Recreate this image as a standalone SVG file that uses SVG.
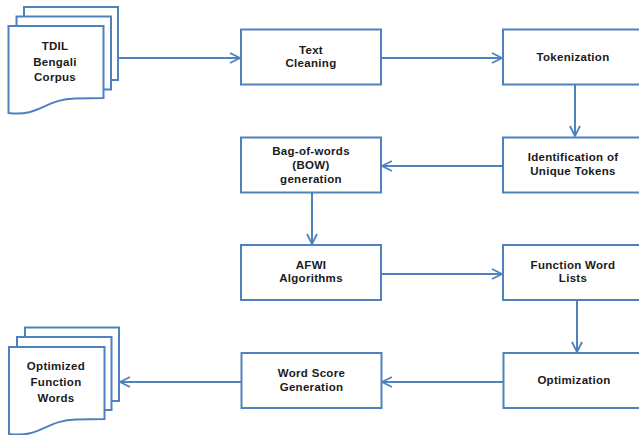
<svg xmlns="http://www.w3.org/2000/svg" width="639" height="435" viewBox="0 0 639 435">
<defs>
<style>
.box{fill:#fff;stroke:#4F81BD;stroke-width:2}
.pg{fill:#fff;stroke:#4F81BD;stroke-width:2;stroke-linejoin:miter}
.c{fill:none;stroke:#4F81BD;stroke-width:2;marker-end:url(#ah)}
text{font-family:"Liberation Sans",Arial,sans-serif;font-weight:bold;font-size:11.5px;letter-spacing:0.3px;fill:#1a1a1a;text-anchor:middle}
</style>
<marker id="ah" viewBox="0 0 12 12" refX="11" refY="6" markerWidth="12" markerHeight="12" markerUnits="userSpaceOnUse" orient="auto">
<path d="M1,1 L11,6 L1,11" fill="none" stroke="#4F81BD" stroke-width="1.8"/>
</marker>
</defs>
<rect width="639" height="435" fill="#fff"/>
<g id="connectors">
<line class="c" x1="118" y1="58" x2="240" y2="58"/>
<line class="c" x1="381" y1="58" x2="502" y2="58"/>
<line class="c" x1="575" y1="84" x2="575" y2="136"/>
<line class="c" x1="503" y1="166" x2="382" y2="166"/>
<line class="c" x1="312" y1="192" x2="312" y2="244"/>
<line class="c" x1="381" y1="274" x2="502" y2="274"/>
<line class="c" x1="577" y1="300" x2="577" y2="352"/>
<line class="c" x1="503" y1="382" x2="382" y2="382"/>
<line class="c" x1="241" y1="382" x2="120" y2="382"/>
</g>
<g id="tdil">
<rect class="pg" x="24" y="7" width="94" height="73"/>
<rect class="pg" x="16.5" y="16.5" width="94.5" height="73"/>
<path class="pg" d="M8.5,26 L103.5,26 L103.5,98 L75,98.5 C45,99 40,117 8.5,113 Z"/>
<text x="55" y="50">TDIL</text>
<text x="55" y="65.5">Bengali</text>
<text x="55" y="81">Corpus</text>
</g>
<g id="textcleaning">
<rect class="box" x="241" y="29.5" width="140" height="55"/>
<text x="311" y="53.5">Text</text>
<text x="311" y="67">Cleaning</text>
</g>
<g id="tokenization">
<rect class="box" x="503" y="29.5" width="140" height="55"/>
<text x="573" y="60.5">Tokenization</text>
</g>
<g id="identification">
<rect class="box" x="503" y="137.5" width="140" height="55"/>
<text x="573" y="161">Identification of</text>
<text x="573" y="175">Unique Tokens</text>
</g>
<g id="bow">
<rect class="box" x="241" y="137.5" width="140" height="55"/>
<text x="311" y="154.5">Bag-of-words</text>
<text x="311" y="168.5">(BOW)</text>
<text x="311" y="182.5">generation</text>
</g>
<g id="afwi">
<rect class="box" x="241" y="245" width="140" height="55"/>
<text x="311" y="268.5">AFWI</text>
<text x="311" y="282">Algorithms</text>
</g>
<g id="functionwordlists">
<rect class="box" x="503" y="245" width="140" height="55"/>
<text x="573" y="268.5">Function Word</text>
<text x="573" y="282">Lists</text>
</g>
<g id="optimization">
<rect class="box" x="503.5" y="353" width="140" height="55"/>
<text x="574" y="384">Optimization</text>
</g>
<g id="wordscore">
<rect class="box" x="241.5" y="353" width="140" height="55"/>
<text x="311.5" y="377">Word Score</text>
<text x="311.5" y="391">Generation</text>
</g>
<g id="optimizedwords">
<rect class="pg" x="25" y="327.5" width="94" height="73.5"/>
<rect class="pg" x="17" y="337" width="94.5" height="73"/>
<path class="pg" d="M9,347 L104.5,347 L104.5,419 L76,419.5 C46,420 41,438 9,434 Z"/>
<text x="56" y="369.5">Optimized</text>
<text x="56" y="386">Function</text>
<text x="56" y="402">Words</text>
</g>
</svg>
